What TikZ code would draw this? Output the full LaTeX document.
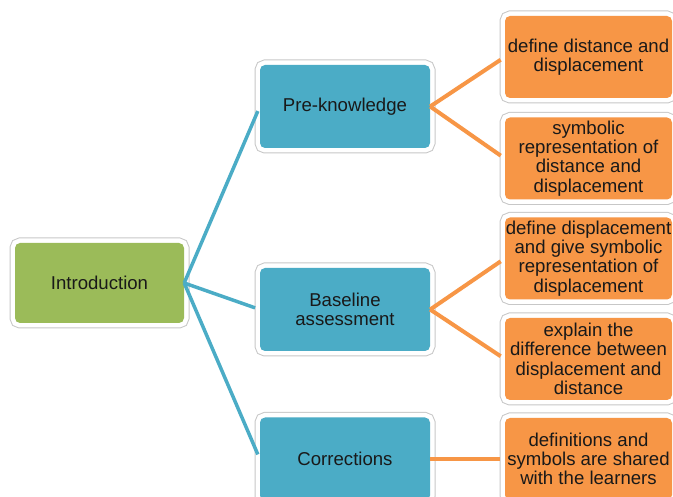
\documentclass[tikz,border=0pt]{standalone}
\usepackage{fontspec}
\setmainfont{Liberation Sans}
\definecolor{mapG}{RGB}{155,187,89}
\definecolor{mapB}{RGB}{75,172,198}
\definecolor{mapO}{RGB}{247,150,70}
\definecolor{mapT}{RGB}{25,25,25}

\begin{document}
\begin{tikzpicture}[x=1pt,y=-1pt,
  box/.style={rounded corners=5pt,inner sep=0pt,align=center,text=mapT,
    font={\fontsize{18.6}{19.3}\selectfont},
    preaction={draw=black!22,line width=11pt},
    preaction={draw=white,line width=9pt}},
  root/.style={box,fill=mapG,minimum width=169pt,minimum height=80pt},
  topic/.style={box,fill=mapB,minimum width=170pt,minimum height=83pt},
  item/.style={box,fill=mapO,minimum width=167pt,minimum height=82pt},
  blink/.style={mapB,line width=3.5pt,shorten >=5pt},
  olink/.style={mapO,line width=4pt,shorten >=5pt}]
\useasboundingbox (0,0) rectangle (673,497);
\clip (0,0) rectangle (673,497);
% left to right: root, topics, items
\node[root] (intro) at (99.5,283) {Introduction};
\node[topic] (preknow) at (345,106.5) {Pre-knowledge};
\node[topic] (baseline) at (345,309.5) {Baseline\\assessment};
\node[topic] (correct) at (345,459) {Corrections};
\node[item] (def1) at (588.5,57) {define distance and\\displacement};
\node[item] (sym1) at (588.5,158.5) {symbolic\\representation of\\distance and\\displacement};
\node[item] (def2) at (588.5,258.5) {define displacement\\and give symbolic\\representation of\\displacement};
\node[item] (diff2) at (588.5,359) {explain the\\difference between\\displacement and\\distance};
\node[item] (share3) at (588.5,459) {definitions and\\symbols are shared\\with the learners};
\draw[blink] (intro.east)--(preknow.west);
\draw[blink] (intro.east)--(baseline.west);
\draw[blink] (intro.east)--(correct.west);
\draw[olink] (preknow.east)--(def1.west);
\draw[olink] (preknow.east)--(sym1.west);
\draw[olink] (baseline.east)--(def2.west);
\draw[olink] (baseline.east)--(diff2.west);
\draw[olink] (correct.east)--(share3.west);
\end{tikzpicture}
\end{document}
